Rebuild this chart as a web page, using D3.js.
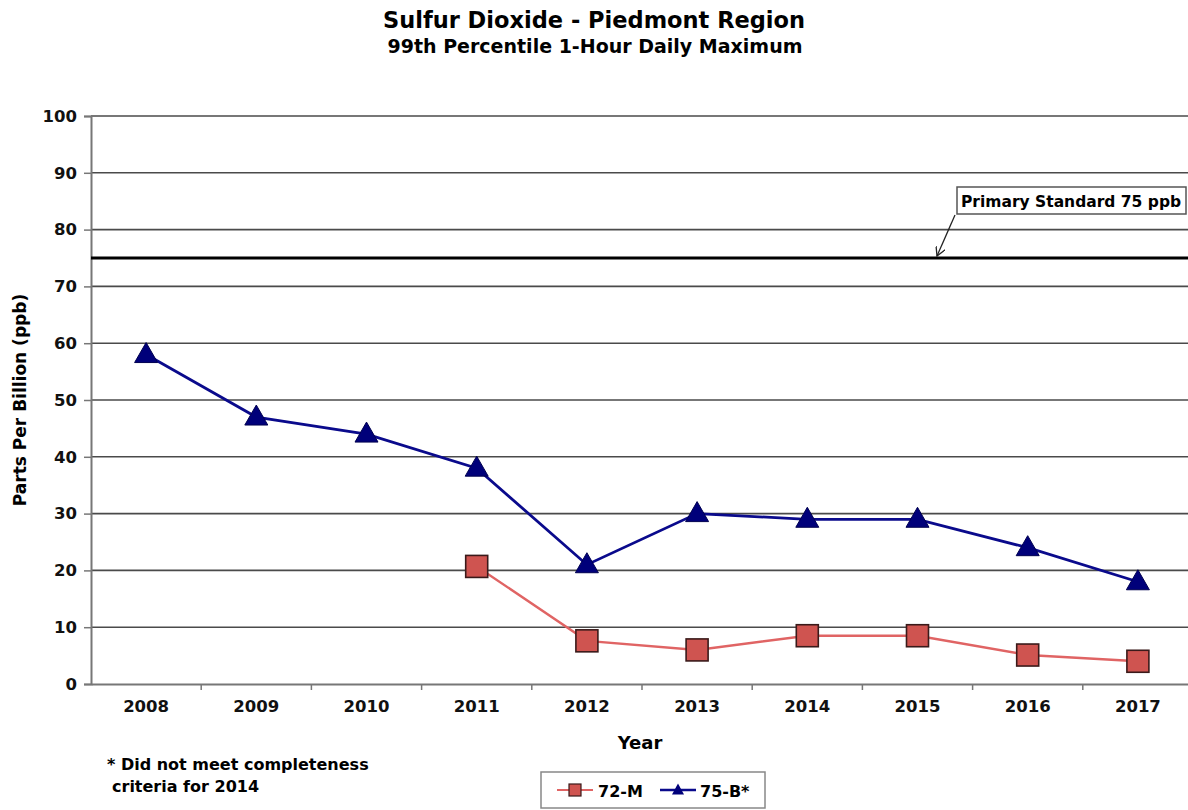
<!DOCTYPE html>
<html>
<head>
<meta charset="utf-8">
<script src="https://cdn.jsdelivr.net/npm/d3@7"></script>
<style>
  html, body { margin: 0; padding: 0; background: #fff; }
  svg { display: block; font-family: "DejaVu Sans", Verdana, sans-serif; font-weight: bold; }
</style>
</head>
<body>
<svg id="chart" width="1188" height="810"></svg>
<script>
// Annual 99th percentile 1-hour daily max SO2 (ppb) by monitor
const years = ["2008", "2009", "2010", "2011", "2012", "2013", "2014", "2015", "2016", "2017"];
const site72M = [null, null, null, 20.7, 7.6, 6.0, 8.5, 8.5, 5.1, 4.0];
const site75B = [58, 47, 44, 38, 21, 30, 29, 29, 24, 18];
const yTicks = [0, 10, 20, 30, 40, 50, 60, 70, 80, 90, 100];
const standard = 75;

const svg = d3.select("#chart");
const plot = { left: 91, right: 1193, top: 116, bottom: 684 };

const x = d3.scaleBand().domain(years).range([plot.left, plot.right]).paddingInner(0).paddingOuter(0);
const y = d3.scaleLinear().domain([0, 100]).range([plot.bottom, plot.top]);
const cx = d => x(d) + x.bandwidth() / 2;

// Titles
svg.append("text").attr("x", 594).attr("y", 28).attr("text-anchor", "middle")
  .style("font-size", "22.5px").text("Sulfur Dioxide - Piedmont Region");
svg.append("text").attr("x", 595).attr("y", 53).attr("text-anchor", "middle")
  .style("font-size", "19px").text("99th Percentile 1-Hour Daily Maximum");

// Horizontal gridlines
svg.append("g").selectAll("line").data(yTicks.filter(t => t > 0)).join("line")
  .attr("x1", plot.left).attr("x2", plot.right)
  .attr("y1", d => y(d)).attr("y2", d => y(d))
  .attr("stroke", "#4a4a4a").attr("stroke-width", 1.6);

// Y axis
const yAxis = svg.append("g").attr("transform", `translate(${plot.left},0)`)
  .call(d3.axisLeft(y).tickValues(yTicks).tickSize(7).tickPadding(7));
yAxis.select(".domain").attr("stroke", "#777").attr("stroke-width", 2);
yAxis.selectAll(".tick line").attr("stroke", "#777").attr("stroke-width", 1.5);
yAxis.selectAll("text").style("font-size", "16.5px").style("font-family", "DejaVu Sans").style("font-weight", "bold").attr("fill", "#111");

// X axis: ticks at category boundaries
const xAxis = svg.append("g").attr("transform", `translate(0,${plot.bottom})`)
  .call(d3.axisBottom(x).tickSize(0).tickPadding(16));
xAxis.select(".domain").attr("stroke", "#777").attr("stroke-width", 2);
xAxis.selectAll("text").style("font-size", "16.5px").style("font-family", "DejaVu Sans").style("font-weight", "bold").attr("fill", "#111");
xAxis.selectAll(".boundary").data(years.slice(1)).join("line").attr("class", "boundary")
  .attr("x1", d => x(d)).attr("x2", d => x(d)).attr("y1", 0).attr("y2", 6)
  .attr("stroke", "#777").attr("stroke-width", 1.5);

// Axis titles
svg.append("text").attr("transform", `translate(26,${(plot.top + plot.bottom) / 2}) rotate(-90)`)
  .attr("text-anchor", "middle").style("font-size", "17px").text("Parts Per Billion (ppb)");
svg.append("text").attr("x", 640).attr("y", 749).attr("text-anchor", "middle")
  .style("font-size", "18px").text("Year");

// Primary standard line
svg.append("line").attr("x1", plot.left).attr("x2", plot.right)
  .attr("y1", y(standard)).attr("y2", y(standard))
  .attr("stroke", "#000").attr("stroke-width", 3.2);

// Callout
svg.append("rect").attr("x", 957).attr("y", 187).attr("width", 229).attr("height", 27)
  .attr("fill", "#fff").attr("stroke", "#555").attr("stroke-width", 1.5);
svg.append("text").attr("x", 961).attr("y", 207).style("font-size", "15.5px").text("Primary Standard 75 ppb");
svg.append("defs").append("marker").attr("id", "arrow").attr("viewBox", "0 0 10 10")
  .attr("refX", 9).attr("refY", 5).attr("markerWidth", 10).attr("markerHeight", 10)
  .attr("orient", "auto").attr("markerUnits", "userSpaceOnUse")
  .append("path").attr("d", "M0,0 L9,5 L0,10").attr("fill", "none").attr("stroke", "#222").attr("stroke-width", 1.3);
svg.append("line").attr("x1", 955).attr("y1", 215).attr("x2", 937).attr("y2", y(standard) - 2)
  .attr("stroke", "#222").attr("stroke-width", 1.3).attr("marker-end", "url(#arrow)");

// Series lines
const line = d3.line().defined(d => d.v != null).x(d => cx(d.year)).y(d => y(d.v));
const s72 = years.map((yr, i) => ({ year: yr, v: site72M[i] }));
const s75 = years.map((yr, i) => ({ year: yr, v: site75B[i] }));

svg.append("path").datum(s72).attr("d", line).attr("fill", "none")
  .attr("stroke", "#e06464").attr("stroke-width", 2.4);
svg.append("path").datum(s75).attr("d", line).attr("fill", "none")
  .attr("stroke", "#0a0a8c").attr("stroke-width", 2.8);

// Markers
const sq = 22;
svg.append("g").selectAll("rect").data(s72.filter(d => d.v != null)).join("rect")
  .attr("x", d => cx(d.year) - sq / 2).attr("y", d => y(d.v) - sq / 2)
  .attr("width", sq).attr("height", sq)
  .attr("fill", "#cf5450").attr("stroke", "#3a1a1a").attr("stroke-width", 1.6);

const tri = (cxp, cyp, w, h) => `M${cxp},${cyp - h * 0.6} L${cxp + w / 2},${cyp + h * 0.4} L${cxp - w / 2},${cyp + h * 0.4} Z`;
svg.append("g").selectAll("path").data(s75).join("path")
  .attr("d", d => tri(cx(d.year), y(d.v), 23, 20))
  .attr("fill", "#00007a").attr("stroke", "#000050").attr("stroke-width", 1);

// Footnote
svg.append("text").attr("x", 107).attr("y", 770).style("font-size", "16px").text("* Did not meet completeness");
svg.append("text").attr("x", 112).attr("y", 792).style("font-size", "16px").text("criteria for 2014");

// Legend
const lg = svg.append("g");
lg.append("rect").attr("x", 541).attr("y", 772).attr("width", 224).attr("height", 36)
  .attr("fill", "#fff").attr("stroke", "#888").attr("stroke-width", 1.5);
lg.append("line").attr("x1", 557).attr("x2", 593).attr("y1", 790).attr("y2", 790).attr("stroke", "#e06464").attr("stroke-width", 2.2);
lg.append("rect").attr("x", 569).attr("y", 784).attr("width", 12).attr("height", 12)
  .attr("fill", "#cf5450").attr("stroke", "#3a1a1a").attr("stroke-width", 1.2);
lg.append("text").attr("x", 598).attr("y", 797).style("font-size", "16px").text("72-M");
lg.append("line").attr("x1", 660).attr("x2", 696).attr("y1", 790).attr("y2", 790).attr("stroke", "#0a0a8c").attr("stroke-width", 2.6);
lg.append("path").attr("d", tri(678, 790, 12, 11)).attr("fill", "#00007a");
lg.append("text").attr("x", 700).attr("y", 797).style("font-size", "16px").text("75-B*");
</script>
</body>
</html>
